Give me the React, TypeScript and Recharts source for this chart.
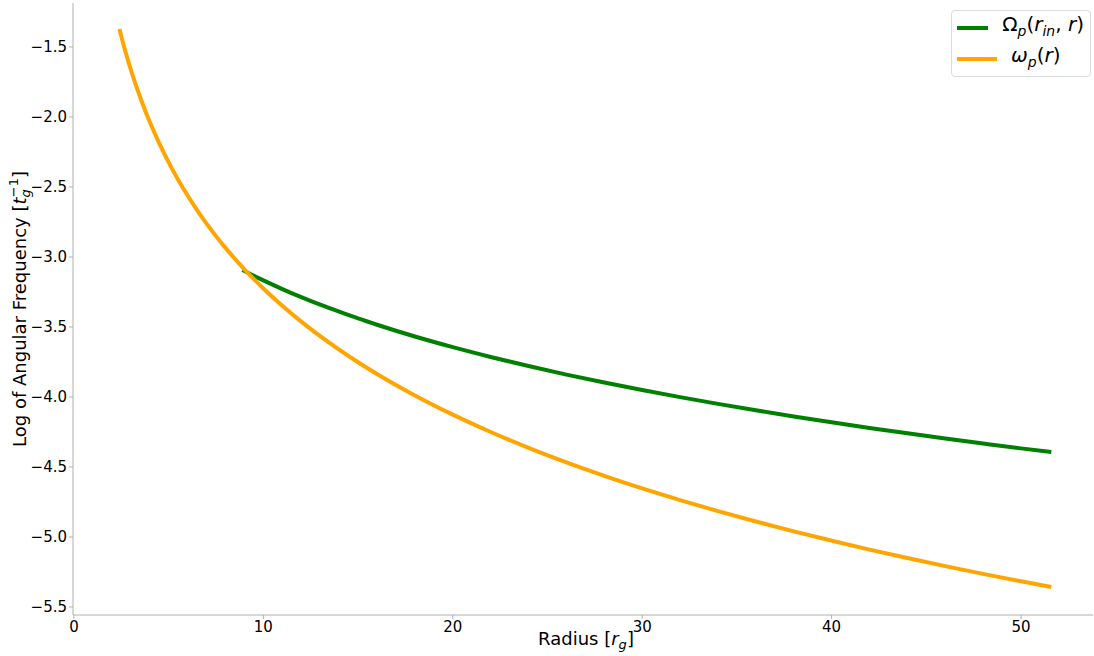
import React from 'react';
import { LineChart, Line, XAxis, YAxis, Legend, Label } from 'recharts';

// values (radius in r_g, log10 of frequency)
const omegaRadius = [2.4, 2.6, 2.8, 3.0, 3.2, 3.4, 3.6, 3.8, 4.0, 4.5, 5.0, 5.5, 6.0, 6.5, 7.0, 7.5, 8.0, 9.0, 10, 11, 12, 13, 14, 15, 16, 18, 20, 22, 24, 26, 28, 30, 32, 34, 36, 38, 40, 42, 44, 46, 48, 50, 51.6];
const omegaLog = [-1.371, -1.475, -1.571, -1.661, -1.744, -1.823, -1.897, -1.968, -2.034, -2.187, -2.324, -2.448, -2.561, -2.665, -2.762, -2.851, -2.935, -3.088, -3.225, -3.349, -3.462, -3.566, -3.662, -3.752, -3.836, -3.989, -4.126, -4.250, -4.363, -4.467, -4.563, -4.653, -4.736, -4.815, -4.889, -4.960, -5.026, -5.090, -5.150, -5.208, -5.263, -5.316, -5.357];

const bigOmegaRadius = [8.9, 9.5, 10, 11, 12, 13, 14, 15, 16, 18, 20, 22, 24, 26, 28, 30, 32, 34, 36, 38, 40, 42, 44, 46, 48, 50, 51.6];
const bigOmegaLog = [-3.093, -3.135, -3.167, -3.229, -3.287, -3.341, -3.391, -3.439, -3.484, -3.568, -3.644, -3.714, -3.779, -3.840, -3.897, -3.950, -4.001, -4.049, -4.095, -4.139, -4.181, -4.221, -4.259, -4.296, -4.332, -4.367, -4.393];

const xTicks = [0, 10, 20, 30, 40, 50];
const yTicks = [-5.5, -5.0, -4.5, -4.0, -3.5, -3.0, -2.5, -2.0, -1.5];

const omegaData = omegaRadius.map((r, i) => ({ r, v: omegaLog[i] }));
const bigOmegaData = bigOmegaRadius.map((r, i) => ({ r, v: bigOmegaLog[i] }));

const FONT = '"DejaVu Sans", sans-serif';
const SPINE = '#b0b0b0';

const fmtY = (v: number) => v.toFixed(1).replace('-', '\u2212');

const subStyle = { fontStyle: 'italic', fontSize: 14 } as const;

const legendLabel = (name: string) => {
    if (name === 'big') {
        return (
            <span>
                Ω<sub style={subStyle}>p</sub>(<i>r</i>
                <sub style={subStyle}>in</sub>, <i>r</i>)
            </span>
        );
    }
    return (
        <span>
            <i>ω</i><sub style={subStyle}>p</sub>(<i>r</i>)
        </span>
    );
};

const renderLegend = (props: any) => {
    const { payload } = props;
    return (
        <div
            style={{
                border: '1px solid #dcdcdc',
                borderRadius: 4,
                background: 'rgba(255,255,255,0.8)',
                padding: '1px 6px 2px 5px',
                fontFamily: FONT,
                fontSize: 20,
                color: '#000',
                whiteSpace: 'nowrap',
            }}
        >
            {(payload || []).map((entry: any) => (
                <div key={entry.value} style={{ display: 'flex', alignItems: 'center', height: 31, lineHeight: '20px' }}>
                    <span style={{ display: 'inline-block', width: 40, height: 4, background: entry.color, marginRight: 14 }} />
                    {legendLabel(entry.value)}
                </div>
            ))}
        </div>
    );
};

const YLabel = (props: any) => {
    const { viewBox } = props;
    const cy = viewBox.y + viewBox.height / 2;
    const x = 26;
    return (
        <text
            x={x}
            y={cy}
            transform={`rotate(-90, ${x}, ${cy})`}
            textAnchor="middle"
            fontFamily={FONT}
            fontSize={18}
            fill="#000"
        >
            <tspan>Log of Angular Frequency [</tspan>
            <tspan fontStyle="italic">t</tspan>
            <tspan fontStyle="italic" fontSize={13} dy={4}>g</tspan>
            <tspan fontSize={13} dx={-8} dy={-12}>{'\u22121'}</tspan>
            <tspan dy={8}>]</tspan>
        </text>
    );
};

const XLabel = (props: any) => {
    const { viewBox } = props;
    const cx = viewBox.x + viewBox.width / 2 + 3;
    return (
        <text x={cx} y={645} textAnchor="middle" fontFamily={FONT} fontSize={18} fill="#000">
            <tspan>Radius [</tspan>
            <tspan fontStyle="italic">r</tspan>
            <tspan fontStyle="italic" fontSize={13} dy={4}>g</tspan>
            <tspan dy={-4}>]</tspan>
        </text>
    );
};

export default function App() {
    const tickStyle = { fontSize: 15, fill: '#000', fontFamily: FONT };
    return (
        <div style={{ position: 'absolute', left: 0, top: 0, width: 1094, height: 656, background: '#fff' }}>
            <LineChart width={1094} height={656} margin={{ top: 3, right: 1, left: 0, bottom: 0 }}>
                <XAxis
                    xAxisId="main"
                    dataKey="r"
                    type="number"
                    domain={[-0.05, 53.8]}
                    ticks={xTicks}
                    allowDataOverflow
                    height={41}
                    tick={tickStyle}
                    tickSize={4}
                    tickMargin={2}
                    stroke={SPINE}
                    tickLine={{ stroke: SPINE }}
                    axisLine={{ stroke: SPINE }}
                >
                    <Label content={<XLabel />} />
                </XAxis>
                <XAxis xAxisId="top" orientation="top" type="number" domain={[0, 1]} height={0} tick={false} tickLine={false} axisLine={{ stroke: SPINE }} />
                <YAxis
                    yAxisId="main"
                    type="number"
                    domain={[-5.557, -1.186]}
                    ticks={yTicks}
                    allowDataOverflow
                    width={73}
                    tick={tickStyle}
                    tickSize={4}
                    tickMargin={2}
                    tickFormatter={fmtY}
                    stroke={SPINE}
                    tickLine={{ stroke: SPINE }}
                    axisLine={{ stroke: SPINE }}
                >
                    <Label content={<YLabel />} />
                </YAxis>
                <YAxis yAxisId="right" orientation="right" type="number" domain={[0, 1]} width={0} tick={false} tickLine={false} axisLine={{ stroke: SPINE }} />
                <Legend
                    layout="vertical"
                    align="center"
                    verticalAlign="middle"
                    content={renderLegend}
                    wrapperStyle={{ left: 951, top: 10, width: 140 }}
                />
                <Line
                    xAxisId="main"
                    yAxisId="main"
                    data={bigOmegaData}
                    dataKey="v"
                    name="big"
                    type="monotone"
                    stroke="#008000"
                    strokeWidth={4}
                    dot={false}
                    activeDot={false}
                    isAnimationActive={false}
                />
                <Line
                    xAxisId="main"
                    yAxisId="main"
                    data={omegaData}
                    dataKey="v"
                    name="small"
                    type="monotone"
                    stroke="#FFA500"
                    strokeWidth={4}
                    dot={false}
                    activeDot={false}
                    isAnimationActive={false}
                />
            </LineChart>
        </div>
    );
}
